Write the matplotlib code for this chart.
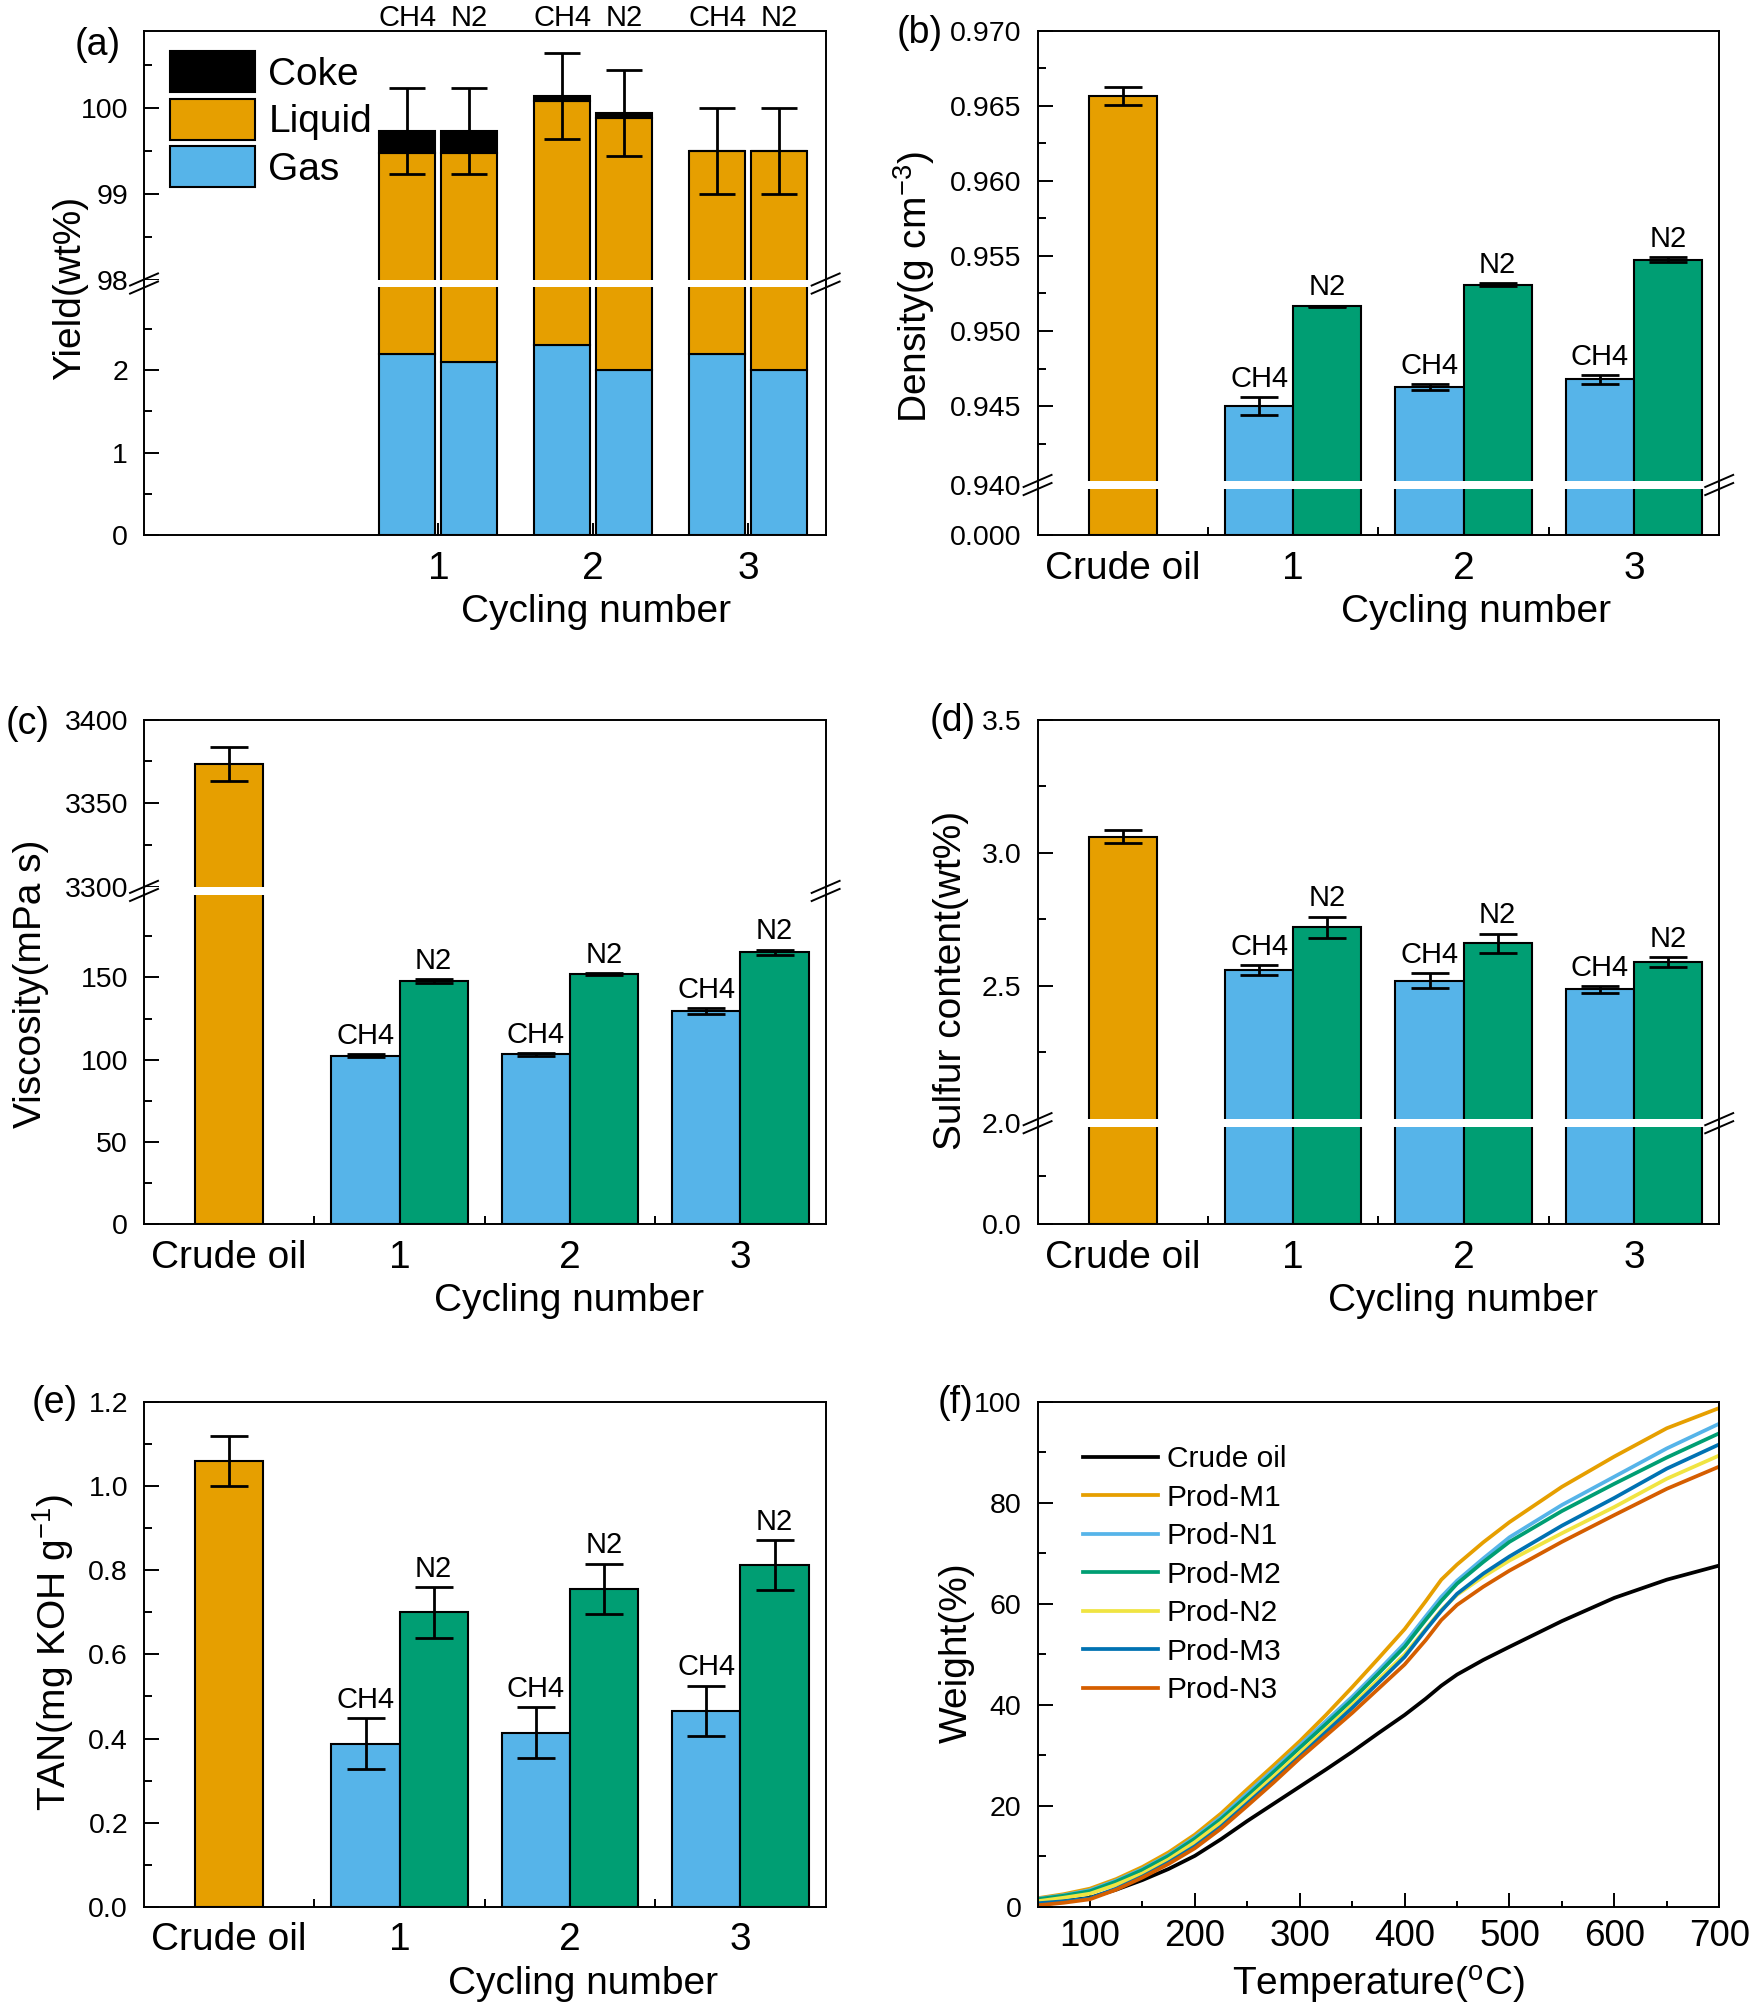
import numpy as np
import matplotlib
matplotlib.use("Agg")
import matplotlib.pyplot as plt
from matplotlib.ticker import FixedLocator, FormatStrFormatter

plt.rcParams['font.family'] = 'Liberation Sans'
plt.rcParams['mathtext.fontset'] = 'custom'
plt.rcParams['mathtext.rm'] = 'Liberation Sans'
plt.rcParams['mathtext.default'] = 'regular'

# colours
c_or = '#E69F00'
c_sky = '#56B4E9'
c_gr = '#009E73'

# ---------------- data ----------------
cyc = [1, 2, 3]
xlab = ['Crude oil', '1', '2', '3']

# (a) yield, order CH4-1, N2-1, CH4-2, N2-2, CH4-3, N2-3
gas = [2.2, 2.1, 2.3, 2.0, 2.2, 2.0]
liquid = [97.28, 97.38, 97.78, 97.88, 97.30, 97.50]
coke = [0.25, 0.25, 0.06, 0.06, 0.0, 0.0]
yield_err = [0.5, 0.5, 0.5, 0.5, 0.5, 0.5]

# (b) density
dens_crude, dens_crude_err = 0.96568, 0.0006
dens_ch4 = [0.9450, 0.94627, 0.94678]
dens_ch4_err = [0.0006, 0.0002, 0.0003]
dens_n2 = [0.95164, 0.95308, 0.95475]
dens_n2_err = [0.00005, 0.0001, 0.00015]

# (c) viscosity
visc_crude, visc_crude_err = 3373.5, 10
visc_ch4 = [102.5, 103.2, 129.6]
visc_ch4_err = [0.8, 0.8, 2.0]
visc_n2 = [147.9, 152.0, 165.1]
visc_n2_err = [1.2, 0.6, 1.8]

# (d) sulfur
sulf_crude, sulf_crude_err = 3.06, 0.025
sulf_ch4 = [2.56, 2.52, 2.487]
sulf_ch4_err = [0.018, 0.027, 0.013]
sulf_n2 = [2.72, 2.66, 2.59]
sulf_n2_err = [0.04, 0.036, 0.018]

# (e) TAN
tan_crude, tan_crude_err = 1.06, 0.06
tan_ch4 = [0.388, 0.414, 0.466]
tan_ch4_err = [0.06, 0.06, 0.06]
tan_n2 = [0.70, 0.756, 0.812]
tan_n2_err = [0.06, 0.06, 0.06]

# (f) TG curves
temp = [50, 75, 100, 125, 150, 175, 200, 225, 250, 275, 300, 325, 350, 375, 400,
        420, 435, 450, 475, 500, 550, 600, 650, 700]
w_crude = [0.5, 1.1, 1.8, 3.4, 5.3, 7.5, 10.1, 13.4, 17.0, 20.4, 23.8, 27.2, 30.7, 34.4, 38.0,
           41.2, 43.8, 46.0, 48.9, 51.5, 56.6, 61.2, 64.8, 67.6]
w_m1 = [1.7, 2.5, 3.6, 5.5, 7.9, 10.8, 14.3, 18.5, 23.3, 28.0, 32.8, 38.0, 43.5, 49.2, 55.0,
        60.5, 64.8, 67.8, 72.2, 76.2, 83.2, 89.2, 94.8, 98.8]
w_n1 = [1.6, 2.3, 3.3, 5.2, 7.5, 10.3, 13.8, 17.8, 22.5, 27.2, 32.0, 36.8, 41.6, 46.8, 52.2,
        57.5, 61.4, 64.6, 69.0, 73.2, 79.6, 85.2, 90.8, 95.7]
w_m2 = [1.5, 2.2, 3.1, 5.0, 7.3, 10.1, 13.5, 17.4, 22.0, 26.7, 31.5, 36.2, 41.0, 46.2, 51.5,
        56.8, 60.6, 64.0, 68.3, 72.3, 78.4, 83.8, 89.0, 93.8]
w_n2 = [1.1, 1.8, 2.6, 4.4, 6.6, 9.4, 12.8, 16.7, 21.2, 25.8, 30.5, 35.2, 40.0, 45.0, 50.0,
        55.0, 58.8, 61.8, 65.4, 68.6, 74.0, 79.2, 84.8, 89.4]
w_m3 = [0.7, 1.1, 1.7, 3.6, 6.0, 8.8, 12.0, 15.9, 20.5, 25.1, 29.8, 34.6, 39.4, 44.4, 49.5,
        54.8, 58.6, 62.0, 66.0, 69.4, 75.5, 81.0, 86.8, 91.6]
w_n3 = [0.3, 0.8, 1.5, 3.4, 5.8, 8.5, 11.6, 15.5, 20.0, 24.6, 29.4, 33.9, 38.4, 43.2, 48.0,
        52.8, 56.8, 59.8, 63.4, 66.6, 72.3, 77.6, 82.8, 87.2]
tg_names = ['Crude oil', 'Prod-M1', 'Prod-N1', 'Prod-M2', 'Prod-N2', 'Prod-M3', 'Prod-N3']
tg_cols = ['#000000', c_or, c_sky, c_gr, '#F0E442', '#0072B2', '#D55E00']


def brk(L, H, klo, gap):
    # piecewise scale: [0,L] squeezed, (L,H) -> small gap, [H,..] slope 1
    a = L * klo
    b = a + gap
    def fwd(y):
        y = np.asarray(y, float)
        return np.where(y <= L, y * klo,
                        np.where(y < H, a + (y - L) / (H - L) * gap, b + (y - H)))
    def inv(u):
        u = np.asarray(u, float)
        return np.where(u <= a, u / klo,
                        np.where(u < b, L + (u - a) / gap * (H - L), H + (u - b)))
    return fwd, inv


def broken(ax, L, H, klo, gap, ymax):
    f, g = brk(L, H, klo, gap)
    ax.set_yscale('function', functions=(f, g))
    ax.set_ylim(0, ymax)
    ax.axhspan(L, H, color='white', lw=0, zorder=2.2)
    u0, u1 = f(0.0), f(ymax)
    yc = float((f((L + H) / 2) - u0) / (u1 - u0))
    dx, dy, s = 0.0205, 0.012, 0.008
    for x0 in (0, 1):
        for o in (-s, s):
            ax.plot([x0 - dx, x0 + dx], [yc + o - dy, yc + o + dy], transform=ax.transAxes,
                    color='k', lw=1.4, clip_on=False, zorder=5)


def style(ax, yt, ymt, fmt, ylabel, ylc, lbl, lbl_off):
    for sp in ax.spines.values():
        sp.set_linewidth(1.4)
    ax.yaxis.set_major_locator(FixedLocator(yt))
    ax.yaxis.set_minor_locator(FixedLocator(ymt))
    ax.yaxis.set_major_formatter(FormatStrFormatter(fmt))
    ax.tick_params(axis='y', which='both', direction='in', width=1.4, labelsize=20.5, pad=11.5)
    ax.tick_params(axis='y', which='major', length=10.8)
    ax.tick_params(axis='y', which='minor', length=5.5)
    ax.set_ylabel(ylabel, fontsize=28)
    ax.yaxis.set_label_coords(*ylc)
    ax.yaxis.label.set_verticalalignment('center')
    ax.annotate(lbl, xy=(0, 1), xycoords='axes fraction', xytext=lbl_off,
                textcoords='offset pixels', ha='center', va='center', fontsize=27)


def xstyle(ax, xlc):
    ax.set_xlim(-0.5, 3.5)
    ax.set_xticks([0, 1, 2, 3])
    ax.set_xticklabels(xlab)
    ax.xaxis.set_minor_locator(FixedLocator([0.5, 1.5, 2.5]))
    ax.tick_params(axis='x', which='major', length=0, labelsize=28, pad=11)
    ax.tick_params(axis='x', which='minor', direction='in', length=5.5, width=1.4)
    ax.set_xlabel('Cycling number', fontsize=28)
    ax.xaxis.set_label_coords(*xlc)
    ax.xaxis.label.set_verticalalignment('center')


def group_bars(ax, crude, crude_err, ch4, ch4_err, n2, n2_err):
    x = np.array(cyc, float)
    kw = dict(width=0.4, edgecolor='k', linewidth=1.5, zorder=1)
    ekw = dict(fmt='none', ecolor='k', elinewidth=2, capsize=14, capthick=2, zorder=3)
    ax.bar(0, crude, color=c_or, **kw)
    ax.bar(x - 0.2, ch4, color=c_sky, **kw)
    ax.bar(x + 0.2, n2, color=c_gr, **kw)
    ax.errorbar(0, crude, yerr=crude_err, **ekw)
    ax.errorbar(x - 0.2, ch4, yerr=ch4_err, **ekw)
    ax.errorbar(x + 0.2, n2, yerr=n2_err, **ekw)
    for i in range(3):
        ax.annotate('CH4', xy=(x[i] - 0.2, ch4[i] + ch4_err[i]), xytext=(0, 3),
                    textcoords='offset points', ha='center', va='bottom', fontsize=21, zorder=6)
        ax.annotate('N2', xy=(x[i] + 0.2, n2[i] + n2_err[i]), xytext=(0, 3),
                    textcoords='offset points', ha='center', va='bottom', fontsize=21, zorder=6)


fig = plt.figure(figsize=(17.5, 20.04), dpi=100)
W, Hh = 0.3895, 0.2519
ax_a = fig.add_axes([0.0823, 0.7328, W, Hh])
ax_b = fig.add_axes([0.5929, 0.7328, W, Hh])
ax_c = fig.add_axes([0.0823, 0.3890, W, Hh])
ax_d = fig.add_axes([0.5929, 0.3890, W, Hh])
ax_e = fig.add_axes([0.0823, 0.0485, W, Hh])
ax_f = fig.add_axes([0.5929, 0.0485, W, Hh])

# ---------- (a) ----------
ax = ax_a
broken(ax, 3.0, 98.0, 0.963, 0.09, 100.9)
xa = np.array([c + d for c in cyc for d in (-0.2, 0.2)])
gas_a = np.array(gas)
liq_a = np.array(liquid)
coke_a = np.array(coke)
kw = dict(width=0.36, edgecolor='k', linewidth=1.5, zorder=1)
hg = ax.bar(xa, gas_a, color=c_sky, label='Gas', **kw)
hl = ax.bar(xa, liq_a, bottom=gas_a, color=c_or, label='Liquid', **kw)
hc = ax.bar(xa, coke_a, bottom=gas_a + liq_a, color='k', label='Coke', **kw)
ax.errorbar(xa, gas_a + liq_a + coke_a, yerr=yield_err, fmt='none', ecolor='k',
            elinewidth=2, capsize=13, capthick=2, zorder=3)
for i, xx in enumerate(xa):
    ax.annotate('CH4' if i % 2 == 0 else 'N2', xy=(xx, 1), xycoords=('data', 'axes fraction'),
                xytext=(0, -1), textcoords='offset points', ha='center', va='bottom',
                fontsize=21, annotation_clip=False)
ax.legend(handles=[hc, hl, hg], loc='upper left', bbox_to_anchor=(0.038, 0.959),
          frameon=False, fontsize=28, borderaxespad=0, borderpad=0,
          handlelength=2.2, handleheight=1.25, labelspacing=0.15, handletextpad=0.33)
ax.set_xlim(-0.9, 3.5)
ax.set_xticks(cyc)
ax.tick_params(axis='x', which='major', direction='in', length=9, width=1.4, labelsize=28, pad=11)
ax.set_xlabel('Cycling number', fontsize=28)
ax.xaxis.set_label_coords(0.663, -0.152)
ax.xaxis.label.set_verticalalignment('center')
style(ax, [0, 1, 2, 98, 99, 100], [0.5, 1.5, 2.5, 98.5, 99.5, 100.5], '%d',
      'Yield(wt%)', (-0.1085, 0.49), '(a)', (-46, -14))

# ---------- (b) ----------
ax = ax_b
broken(ax, 0.9398, 0.9400, 0.003306, 0.000508, 0.970)
group_bars(ax, dens_crude, dens_crude_err, dens_ch4, dens_ch4_err, dens_n2, dens_n2_err)
xstyle(ax, (0.643, -0.152))
style(ax, [0.0, 0.9399, 0.945, 0.950, 0.955, 0.960, 0.965, 0.970],
      [0.9425, 0.9475, 0.9525, 0.9575, 0.9625, 0.9675], '%.3f',
      'Density(g cm$^{-3}$)', (-0.181, 0.492), '(b)', (-118, -2))

# ---------- (c) ----------
ax = ax_c
broken(ax, 200.0, 3300.0, 0.985, 4.86, 3400)
group_bars(ax, visc_crude, visc_crude_err, visc_ch4, visc_ch4_err, visc_n2, visc_n2_err)
xstyle(ax, (0.624, -0.152))
style(ax, [0, 50, 100, 150, 3300, 3350, 3400], [25, 75, 125, 175, 3325, 3375], '%d',
      'Viscosity(mPa s)', (-0.166, 0.477), '(c)', (-116, -4))

# ---------- (d) ----------
ax = ax_d
broken(ax, 1.998, 2.0, 0.1824, 0.032, 3.5)
group_bars(ax, sulf_crude, sulf_crude_err, sulf_ch4, sulf_ch4_err, sulf_n2, sulf_n2_err)
xstyle(ax, (0.624, -0.152))
style(ax, [0.0, 1.999, 2.5, 3.0, 3.5], [1.0, 2.25, 2.75, 3.25], '%.1f',
      'Sulfur content(wt%)', (-0.127, 0.484), '(d)', (-85, -1))

# ---------- (e) ----------
ax = ax_e
ax.set_ylim(0, 1.2)
group_bars(ax, tan_crude, tan_crude_err, tan_ch4, tan_ch4_err, tan_n2, tan_n2_err)
xstyle(ax, (0.644, -0.153))
style(ax, [0.0, 0.2, 0.4, 0.6, 0.8, 1.0, 1.2], [0.1, 0.3, 0.5, 0.7, 0.9, 1.1], '%.1f',
      'TAN(mg KOH g$^{-1}$)', (-0.133, 0.503), '(e)', (-89, -1))

# ---------- (f) ----------
ax = ax_f
series = [w_crude, w_m1, w_n1, w_m2, w_n2, w_m3, w_n3]
for nm, col, w in zip(tg_names, tg_cols, series):
    ax.plot(temp, w, color=col, lw=2.7, label=nm)
ax.set_xlim(50, 700)
ax.set_ylim(0, 100)
ax.xaxis.set_major_locator(FixedLocator([100, 200, 300, 400, 500, 600, 700]))
ax.xaxis.set_minor_locator(FixedLocator([150, 250, 350, 450, 550, 650]))
ax.tick_params(axis='x', which='both', direction='in', width=1.4, labelsize=26.5, pad=9)
ax.tick_params(axis='x', which='major', length=10)
ax.tick_params(axis='x', which='minor', length=4.6)
ax.set_xlabel('Temperature($^{o}$C)', fontsize=28)
ax.xaxis.set_label_coords(0.50, -0.155)
ax.xaxis.label.set_verticalalignment('center')
style(ax, [0, 20, 40, 60, 80, 100], [10, 30, 50, 70, 90], '%d',
      'Weight(%)', (-0.119, 0.504), '(f)', (-82, -1))
ax.legend(loc='upper left', bbox_to_anchor=(0.067, 0.914), frameon=False, fontsize=21.5,
          borderaxespad=0, borderpad=0, handlelength=2.5, labelspacing=0.35,
          handletextpad=0.3)

fig.savefig('out.png', dpi=100)
